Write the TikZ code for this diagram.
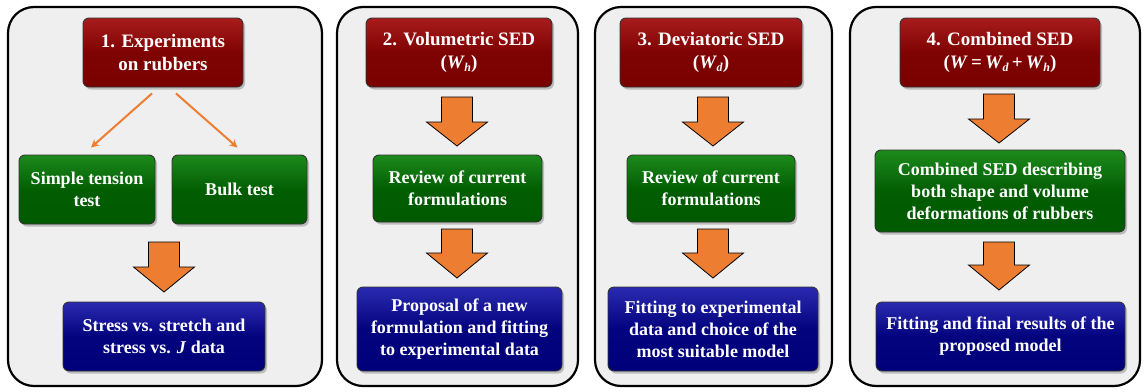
\documentclass[tikz,border=0pt]{standalone}
\usepackage{fontspec}
\setmainfont{Liberation Serif}
\usetikzlibrary{shadows,arrows.meta,calc}

\definecolor{panelfill}{HTML}{EFEFEF}
\definecolor{redtop}{HTML}{A81C1C}
\definecolor{redbot}{HTML}{7A0000}
\definecolor{greentop}{HTML}{1C8A1C}
\definecolor{greenbot}{HTML}{005A00}
\definecolor{bluetop}{HTML}{2A2AB0}
\definecolor{bluebot}{HTML}{00007A}
\definecolor{arroworange}{HTML}{ED7D31}

% italic symbol with italic subscript
\newcommand\Wsub[1]{\textit{W}\kern-0.5pt\raisebox{-0.35ex}{\fontsize{12}{12}\selectfont\textit{#1}}}

% block arrow: centre x, top y, y where the head starts, tip y
\newcommand\blockarrow[4]{%
  \draw[blockarr] (#1-15.5,#2) -- (#1+15.5,#2) -- (#1+15.5,#3) -- (#1+30.5,#3)
    -- (#1,#4) -- (#1-30.5,#3) -- (#1-15.5,#3) -- cycle;}

\tikzset{
  panel/.style={draw=black, line width=2.2pt, fill=panelfill, rounded corners=26pt,
    inner sep=0pt},
  box/.style={draw=black!80, line width=0.9pt, rounded corners=6pt, inner sep=2pt,
    align=center, text=white, font=\bfseries\fontsize{18}{22}\selectfont,
    drop shadow={shadow xshift=2pt, shadow yshift=-2.5pt, opacity=0.45}},
  redbox/.style={box, top color=redtop, bottom color=redbot, middle color=redbot!90!redtop,
    font=\bfseries\fontsize{19}{23}\selectfont},
  greenbox/.style={box, top color=greentop, bottom color=greenbot, middle color=greenbot!92!greentop},
  bluebox/.style={box, top color=bluetop, bottom color=bluebot, middle color=bluebot!92!bluetop},
  blockarr/.style={draw=black, line width=0.8pt, fill=arroworange},
  thinarr/.style={draw=arroworange, line width=2pt, -{Stealth[length=8pt,width=8pt]}},
}

\begin{document}
\begin{tikzpicture}[x=1pt,y=-1pt]
\useasboundingbox (0,0) rectangle (1147,391);

% the four panels
\node[panel, minimum width=314, minimum height=379] (p1) at (165,196.5) {};
\node[panel, minimum width=241, minimum height=379] (p2) at (457.5,196.5) {};
\node[panel, minimum width=237, minimum height=379] (p3) at (713.5,196.5) {};
\node[panel, minimum width=290, minimum height=379] (p4) at (995,196.5) {};

% panel 1: experiments
\node[redbox, minimum width=160, minimum height=69] (r1) at (163,52.5) {1. Experiments\\on rubbers};
\node[greenbox, minimum width=136, minimum height=69] (g1a) at (87,189.5) {Simple tension\\test};
\node[greenbox, minimum width=135, minimum height=69] (g1b) at (239.5,189.5) {Bulk test};
\node[bluebox, minimum width=202, minimum height=69] (b1) at (164,336.5) {Stress vs. stretch and\\stress vs. \textit{J} data};
\draw[thinarr] ($(r1.south)+(-11,6)$) -- ($(g1a.north)+(4,-7)$);
\draw[thinarr] ($(r1.south)+(13,6)$) -- ($(g1b.north)+(-2,-7)$);
\blockarrow{164}{242}{267}{292}

% panel 2: volumetric SED
\node[redbox, minimum width=186, minimum height=69] (r2) at (459,52.5) {2. Volumetric SED\\(\Wsub{h})};
\node[greenbox, minimum width=169, minimum height=67] (g2) at (457.5,188.5) {Review of current\\formulations};
\node[bluebox, minimum width=205, minimum height=84] (b2) at (459.5,329) {Proposal of a new\\formulation and fitting\\to experimental data};
\blockarrow{457}{97}{122}{146}
\blockarrow{457}{229}{253}{278}

% panel 3: deviatoric SED
\node[redbox, minimum width=182, minimum height=69] (r3) at (711,52.5) {3. Deviatoric SED\\(\Wsub{d})};
\node[greenbox, minimum width=168, minimum height=67] (g3) at (711,188.5) {Review of current\\formulations};
\node[bluebox, minimum width=210, minimum height=84] (b3) at (713,329) {Fitting to experimental\\data and choice of the\\most suitable model};
\blockarrow{713}{97}{122}{146}
\blockarrow{713}{229}{253}{278}

% panel 4: combined SED
\node[redbox, minimum width=200, minimum height=69] (r4) at (1000,52.5) {4. Combined SED\\(\textit{W}\,=\,\Wsub{d}\,+\,\Wsub{h})};
\node[greenbox, minimum width=250, minimum height=82] (g4) at (1000,191) {Combined SED describing\\both shape and volume\\deformations of rubbers};
\node[bluebox, minimum width=249, minimum height=69] (b4) at (1000.5,336.5) {Fitting and final results of the\\proposed model};
\blockarrow{999}{94}{119}{143}
\blockarrow{999}{242}{265}{290}
\end{tikzpicture}
\end{document}
